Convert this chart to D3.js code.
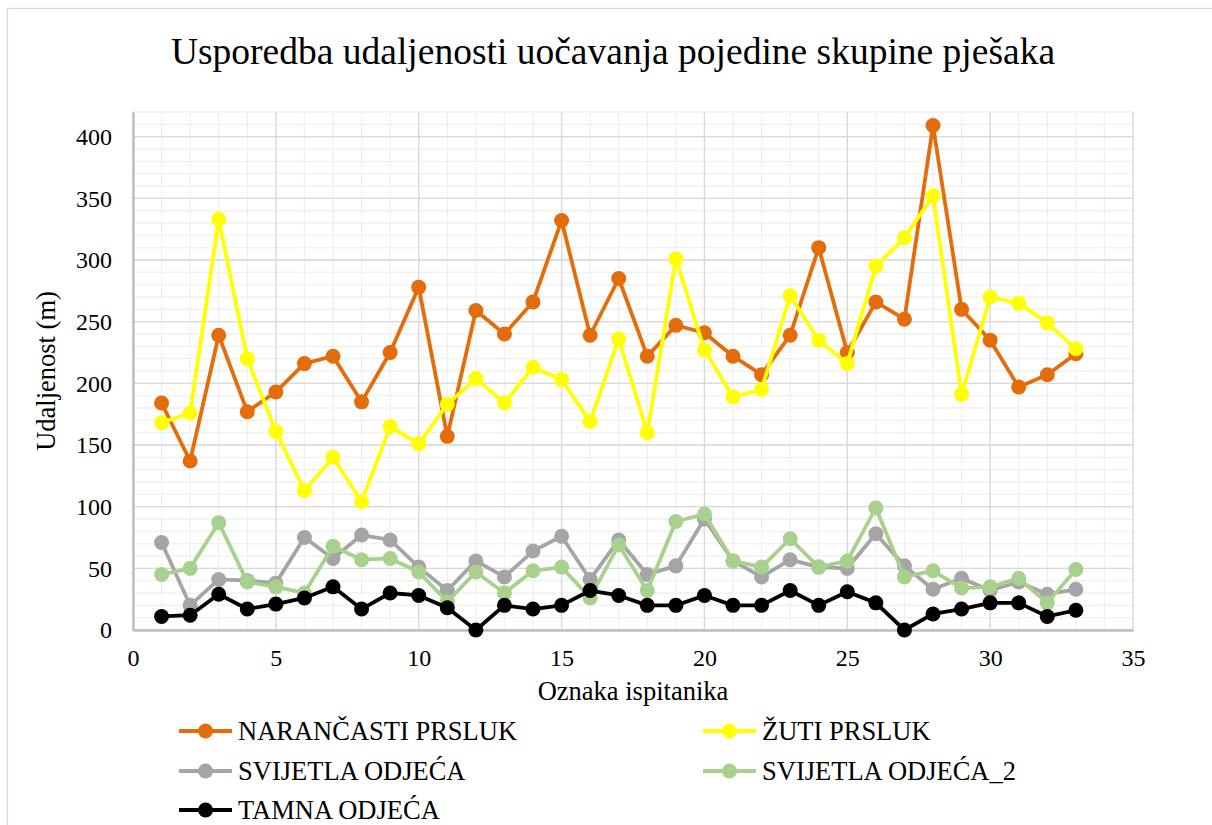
<!DOCTYPE html>
<html>
<head>
<meta charset="utf-8">
<title>Usporedba udaljenosti</title>
<script src="https://d3js.org/d3.v7.min.js"></script>
<style>
  html, body { margin: 0; padding: 0; background: #fff; }
  svg { display: block; font-family: "Liberation Serif", "Times New Roman", serif; }
</style>
</head>
<body>
<div id="chart"></div>
<script>
// subject ids 1..33
const ispitanici = d3.range(1, 34);

const narancasti = [184, 137, 239, 177, 193, 216, 222, 185, 225, 278, 157, 259, 240, 266, 332, 239, 285, 222,
  247, 241, 222, 207, 239, 310, 225, 266, 252, 409, 260, 235, 197, 207, 224];
const zuti = [168, 176, 333, 220, 161, 113, 140, 104, 165, 151, 183, 204, 184, 213, 203, 169, 236, 160,
  301, 227, 189, 195, 271, 235, 216, 295, 318, 352, 191, 270, 265, 249, 228];
const svijetla = [71, 20, 41, 40, 38, 75, 58, 77, 73, 51, 32, 56, 43, 64, 76, 41, 73, 45,
  52, 90, 56, 43, 57, 51, 50, 78, 52, 33, 42, 32, 39, 29, 33];
const svijetla2 = [45, 50, 87, 39, 35, 30, 68, 57, 58, 47, 23, 47, 30, 48, 51, 26, 69, 32,
  88, 94, 56, 51, 74, 51, 56, 99, 43, 48, 34, 35, 42, 22, 49];
const tamna = [11, 12, 29, 17, 21, 26, 35, 17, 30, 28, 18, 0, 20, 17, 20, 32, 28, 20,
  20, 28, 20, 20, 32, 20, 31, 22, 0, 13, 17, 22, 22, 11, 16];

const seriesNames = ["NARANČASTI PRSLUK", "ŽUTI PRSLUK", "SVIJETLA ODJEĆA", "SVIJETLA ODJEĆA_2", "TAMNA ODJEĆA"];
const seriesColors = ["#E46C0A", "#FFFF00", "#A5A5A5", "#A9D18E", "#000000"];
const seriesValues = [narancasti, zuti, svijetla, svijetla2, tamna];

const yTicks = [0, 50, 100, 150, 200, 250, 300, 350, 400];
const xTicks = [0, 5, 10, 15, 20, 25, 30, 35];

const W = 1212, H = 825;
const plot = { left: 133, right: 1133, top: 112, bottom: 630 };
const FONT = "Liberation Serif, Times New Roman, serif";

const svg = d3.select("#chart").append("svg")
  .attr("width", W).attr("height", H);

svg.append("rect").attr("width", W).attr("height", H).attr("fill", "#fff");
// chart frame
svg.append("rect")
  .attr("x", 7.5).attr("y", 8.5)
  .attr("width", 1230).attr("height", 840)
  .attr("fill", "none").attr("stroke", "#d9d9d9").attr("stroke-width", 1.3);

const x = d3.scaleLinear().domain([0, 35]).range([plot.left, plot.right]);
const y = d3.scaleLinear().domain([0, 420]).range([plot.bottom, plot.top]);

// minor grid
const grid = svg.append("g");
grid.selectAll("line.mx").data(d3.range(0, 36)).enter().append("line")
  .attr("x1", d => x(d)).attr("x2", d => x(d))
  .attr("y1", plot.top).attr("y2", plot.bottom)
  .attr("stroke", "#f0f0f0").attr("stroke-width", 1.3);
grid.selectAll("line.my").data(d3.range(0, 430, 10)).enter().append("line")
  .attr("x1", plot.left).attr("x2", plot.right)
  .attr("y1", d => y(d)).attr("y2", d => y(d))
  .attr("stroke", "#f0f0f0").attr("stroke-width", 1.3);
// major grid
grid.selectAll("line.Mx").data(xTicks).enter().append("line")
  .attr("x1", d => x(d)).attr("x2", d => x(d))
  .attr("y1", plot.top).attr("y2", plot.bottom)
  .attr("stroke", "#d9d9d9").attr("stroke-width", 1.3);
grid.selectAll("line.My").data(yTicks).enter().append("line")
  .attr("x1", plot.left).attr("x2", plot.right)
  .attr("y1", d => y(d)).attr("y2", d => y(d))
  .attr("stroke", "#d9d9d9").attr("stroke-width", 1.3);

// axes
const xAxis = svg.append("g")
  .attr("transform", `translate(0,${plot.bottom})`)
  .call(d3.axisBottom(x).tickValues(xTicks).tickSize(0).tickPadding(19));
const yAxis = svg.append("g")
  .attr("transform", `translate(${plot.left},0)`)
  .call(d3.axisLeft(y).tickValues(yTicks).tickSize(0).tickPadding(21));
[xAxis, yAxis].forEach(a => {
  a.attr("font-family", FONT).attr("font-size", 24);
  a.select(".domain").attr("stroke", "#bfbfbf").attr("stroke-width", 2.5);
  a.selectAll(".tick text").attr("fill", "#000");
});

// lines + markers
const line = d3.line().x((d, i) => x(ispitanici[i])).y(d => y(d));
seriesValues.forEach((vals, k) => {
  const g = svg.append("g");
  g.append("path").datum(vals)
    .attr("d", line)
    .attr("fill", "none")
    .attr("stroke", seriesColors[k])
    .attr("stroke-width", 3.8)
    .attr("stroke-linejoin", "round");
  g.selectAll("circle").data(vals).enter().append("circle")
    .attr("cx", (d, i) => x(ispitanici[i]))
    .attr("cy", d => y(d))
    .attr("r", 7.5)
    .attr("fill", seriesColors[k]);
});

// titles
svg.append("text")
  .attr("x", 613).attr("y", 64)
  .attr("text-anchor", "middle")
  .attr("font-size", 37.5)
  .text("Usporedba udaljenosti uočavanja pojedine skupine pješaka");

svg.append("text")
  .attr("x", 633).attr("y", 700)
  .attr("text-anchor", "middle")
  .attr("font-size", 26.5)
  .text("Oznaka ispitanika");

svg.append("text")
  .attr("transform", "translate(55,371) rotate(-90)")
  .attr("text-anchor", "middle")
  .attr("font-size", 26.5)
  .text("Udaljenost (m)");

// legend
const legendPos = [[179, 731], [703, 731], [179, 771], [703, 771], [179, 810]];
seriesNames.forEach((name, k) => {
  const [lx, ly] = legendPos[k];
  const g = svg.append("g").attr("transform", `translate(${lx},${ly})`);
  g.append("line").attr("x1", 0).attr("x2", 53).attr("y1", 0).attr("y2", 0)
    .attr("stroke", seriesColors[k]).attr("stroke-width", 3.8);
  g.append("circle").attr("cx", 26.5).attr("cy", 0).attr("r", 7.5)
    .attr("fill", seriesColors[k]);
  g.append("text").attr("x", 59).attr("y", 9)
    .attr("font-size", 26.5)
    .text(name);
});
</script>
</body>
</html>
